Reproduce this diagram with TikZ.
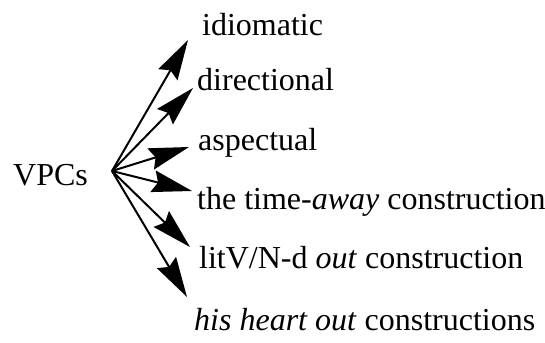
\documentclass[tikz,border=0pt]{standalone}
\usepackage{fontspec}
\setmainfont{Liberation Serif}[
  UprightFont={Liberation Serif},
  ItalicFont={Liberation Serif Italic},
  BoldFont={Liberation Serif Bold}]
\usetikzlibrary{arrows.meta}
\begin{document}
\begin{tikzpicture}[x=1pt,y=-1pt,
  lbl/.style={anchor=base west,inner sep=0pt,font=\fontsize{32}{38}\selectfont},
  conn/.style={line width=2pt,-{Stealth[length=40pt,width=22pt,inset=5pt]}}]
\useasboundingbox (0,0) rectangle (545,342);
\node[lbl] (vpc) at (13,185) {VPCs};
\node[lbl] (t1) at (202,36) {idiomatic};
\node[lbl] (t2) at (197,91) {directional};
\node[lbl] (t3) at (198,150) {aspectual};
\node[lbl] (t4) at (197,209) {the time-\textit{away} construction};
\node[lbl] (t5) at (199,268) {litV/N-d \textit{out} construction};
\node[lbl] (t6) at (194,330) {\textit{his heart out} constructions};
\coordinate (o) at (112,171);
\coordinate (e1) at (188,40);
\coordinate (e2) at (193,88);
\coordinate (e3) at (189,147);
\coordinate (e4) at (192,191);
\coordinate (e5) at (190,247);
\coordinate (e6) at (187,297);
\foreach \i in {1,...,6} \draw[conn] (o) -- (e\i);
\end{tikzpicture}
\end{document}
